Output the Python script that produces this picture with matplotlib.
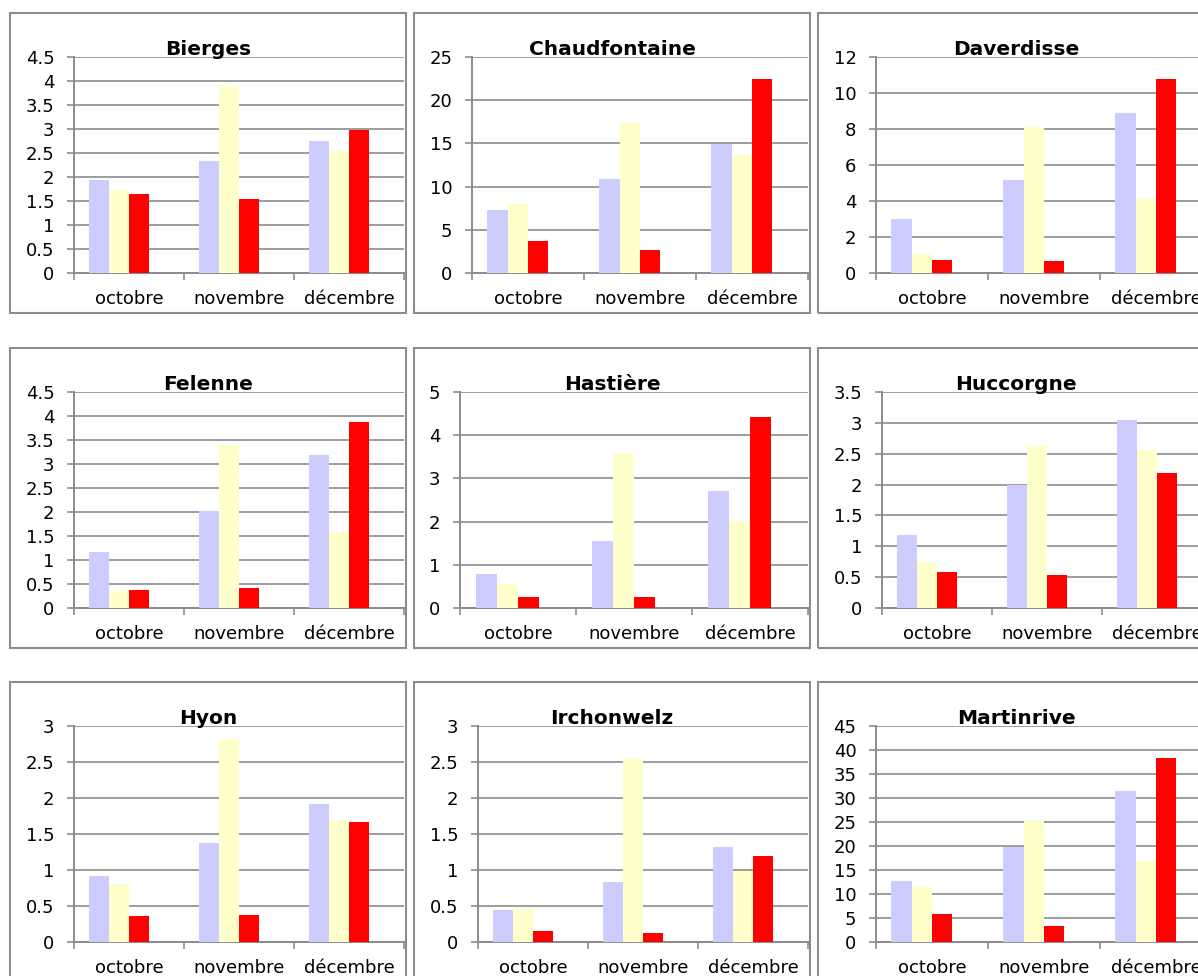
import numpy as np
import matplotlib.pyplot as plt
from matplotlib.patches import Rectangle
from matplotlib.ticker import FuncFormatter

# Données
mois = ['octobre', 'novembre', 'décembre']
stations = ['Bierges', 'Chaudfontaine', 'Daverdisse',
            'Felenne', 'Hastière', 'Huccorgne',
            'Hyon', 'Irchonwelz', 'Martinrive']

serie_1 = [[1.93, 2.33, 2.74], [7.33, 10.84, 14.97], [3.02, 5.15, 8.89],
           [1.16, 2.03, 3.19], [0.78, 1.55, 2.71], [1.18, 2.00, 3.04],
           [0.91, 1.38, 1.91], [0.44, 0.84, 1.32], [12.67, 19.88, 31.5]]
serie_2 = [[1.73, 3.89, 2.55], [7.99, 17.4, 13.62], [1.07, 8.11, 4.17],
           [0.36, 3.40, 1.59], [0.55, 3.58, 2.02], [0.74, 2.63, 2.56],
           [0.81, 2.82, 1.69], [0.46, 2.56, 0.98], [11.43, 25.4, 16.97]]
serie_3 = [[1.64, 1.55, 2.98], [3.67, 2.62, 22.49], [0.70, 0.67, 10.78],
           [0.37, 0.41, 3.88], [0.26, 0.25, 4.43], [0.58, 0.53, 2.19],
           [0.36, 0.37, 1.66], [0.15, 0.12, 1.20], [5.75, 3.32, 38.4]]

y_max = [4.5, 25, 12, 4.5, 5, 3.5, 3, 3, 45]
y_pas = [0.5, 5, 2, 0.5, 1, 0.5, 0.5, 0.5, 5]

couleurs = ['#CCCCFF', '#FFFFCC', '#FF0000']

W, H = 1198, 976
fig = plt.figure(figsize=(W / 100, H / 100), dpi=100)
fig.patch.set_facecolor('white')

gris = '#8c8c8c'
# position des cadres (pixels) et marge gauche de la zone de tracé
cadre_x = [10, 414, 818]
cadre_y = [13, 348, 682]
cadre_w, cadre_h = 396, 300
marge_g = [64, 58, 58, 64, 46, 64, 64, 64, 58]

largeur = 1 / 5.5  # 4 emplacements par groupe, intervalle 150 %
decal = [-2, -1, 0]
x = np.arange(len(mois))

for i, nom in enumerate(stations):
    ligne, col = divmod(i, 3)
    bx, by = cadre_x[col], cadre_y[ligne]
    fig.patches.append(Rectangle((bx / W, 1 - (by + cadre_h) / H), cadre_w / W, cadre_h / H,
                                 transform=fig.transFigure, fill=False,
                                 edgecolor=gris, linewidth=1.5, zorder=0))

    x0 = bx + marge_g[i]
    x1 = bx + cadre_w - 2
    y0 = by + 44
    y1 = by + 260
    ax = fig.add_axes([x0 / W, 1 - y1 / H, (x1 - x0) / W, (y1 - y0) / H])

    for s, serie in enumerate([serie_1, serie_2, serie_3]):
        ax.bar(x + decal[s] * largeur, serie[i], width=largeur, align='edge',
               color=couleurs[s], edgecolor='none', zorder=3)

    ax.set_xlim(-0.5, 2.5)
    ax.set_ylim(0, y_max[i])
    ax.set_yticks(np.arange(0, y_max[i] + y_pas[i] / 2, y_pas[i]))
    ax.yaxis.set_major_formatter(FuncFormatter(lambda v, p: '%g' % v))
    ax.grid(axis='y', color=gris, linewidth=1.2, zorder=0)
    ax.set_axisbelow(True)

    ax.set_xticks([-0.5, 0.5, 1.5, 2.5])
    ax.set_xticklabels([])
    ax.set_xticks(x, minor=True)
    ax.set_xticklabels(mois, minor=True, fontsize=13)
    ax.tick_params(axis='x', which='major', length=5, width=1.2, color=gris, direction='out')
    ax.tick_params(axis='x', which='minor', length=0, pad=12)
    ax.tick_params(axis='y', length=5, width=1.2, color=gris, direction='out',
                   labelsize=13, pad=9)

    for c in ['top', 'right']:
        ax.spines[c].set_visible(False)
    for c in ['left', 'bottom']:
        ax.spines[c].set_color(gris)
        ax.spines[c].set_linewidth(1.4)
    ax.patch.set_alpha(0)

    fig.text((bx + cadre_w / 2) / W, 1 - (by + 42) / H, nom, ha='center', va='baseline',
             fontsize=14.5, fontweight='bold', zorder=10)

fig.savefig('out.png', dpi=100, facecolor='white')
